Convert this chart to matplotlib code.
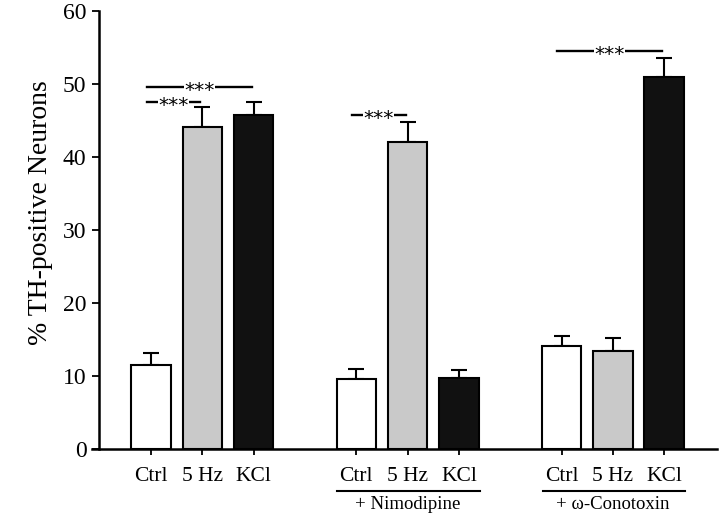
import matplotlib
matplotlib.use("Agg")
import matplotlib.pyplot as plt
import matplotlib.transforms as mtransforms

plt.rcParams['font.family'] = ['Liberation Serif', 'DejaVu Serif']

# bar data: three groups of Ctrl / 5 Hz / KCl
conditions = ["Ctrl", "5 Hz", "KCl"]
groups = ["", "+ Nimodipine", "+ \u03c9-Conotoxin"]
values = [11.5, 44.1, 45.7,
          9.6, 42.0, 9.8,
          14.1, 13.4, 50.9]
errors = [1.7, 2.7, 1.9,
          1.4, 2.8, 1.1,
          1.4, 1.9, 2.7]
colors = ["white", "#c9c9c9", "#111111"] * 3

# significance lines: (from bar, to bar, y level)
sig_pairs = [(0, 2, 49.6), (0, 1, 47.6), (3, 4, 45.8), (6, 8, 54.5)]

x = [g * 4 + j for g in range(3) for j in range(3)]

fig = plt.figure(figsize=(7.2, 5.15), dpi=100)
ax = fig.add_axes([92 / 720, 65.7 / 515, (717 - 92) / 720, 438.3 / 515])

ax.bar(x, values, width=0.77, color=colors, edgecolor="black", linewidth=1.5, zorder=2)
ax.errorbar(x, values, yerr=[[0] * len(errors), errors], fmt="none", ecolor="black",
            elinewidth=1.5, capsize=5.5, capthick=1.5, zorder=1)

ax.set_xlim(-1.15, 11.03)
ax.set_ylim(0, 60)
ax.set_yticks(range(0, 61, 10))
ax.tick_params(axis="y", direction="out", length=5, width=1.3, labelsize=17, pad=4)
ax.set_xticks(x)
ax.set_xticklabels(conditions * 3)
ax.tick_params(axis="x", direction="out", length=4, width=1.3, labelsize=15.5, pad=9)

ax.spines["top"].set_visible(False)
ax.spines["right"].set_visible(False)
ax.spines["left"].set_linewidth(1.8)
ax.spines["bottom"].set_linewidth(1.8)
ax.spines["left"].set_position(("outward", -5))

ax.set_ylabel("% TH-positive Neurons", fontsize=20)
ax.yaxis.set_label_coords(-0.062, 0.54)

# significance lines with stars
for a, b, y in sig_pairs:
    x0 = x[a] - 0.08
    x1 = x[b] - 0.04
    ax.plot([x0, x1], [y, y], color="black", lw=1.7, zorder=3)
    ax.annotate("***", ((x0 + x1) / 2, y), xytext=(0, -2.5), textcoords="offset points",
                ha="center", va="center", fontsize=14.5, fontfamily="DejaVu Sans",
                bbox=dict(facecolor="white", edgecolor="none", pad=0.3), zorder=4)

# treatment underlines and labels
trans = mtransforms.blended_transform_factory(ax.transData, ax.transAxes)
for g, name in enumerate(groups):
    if not name:
        continue
    left = g * 4 - 0.37
    right = g * 4 + 2 + 0.41
    ax.plot([left, right], [-0.094, -0.094], color="black", lw=1.5,
            transform=trans, clip_on=False)
    ax.text(g * 4 + 1, -0.126, name, transform=trans, ha="center", va="center",
            fontsize=13.5)

plt.savefig("out.png", dpi=100)
